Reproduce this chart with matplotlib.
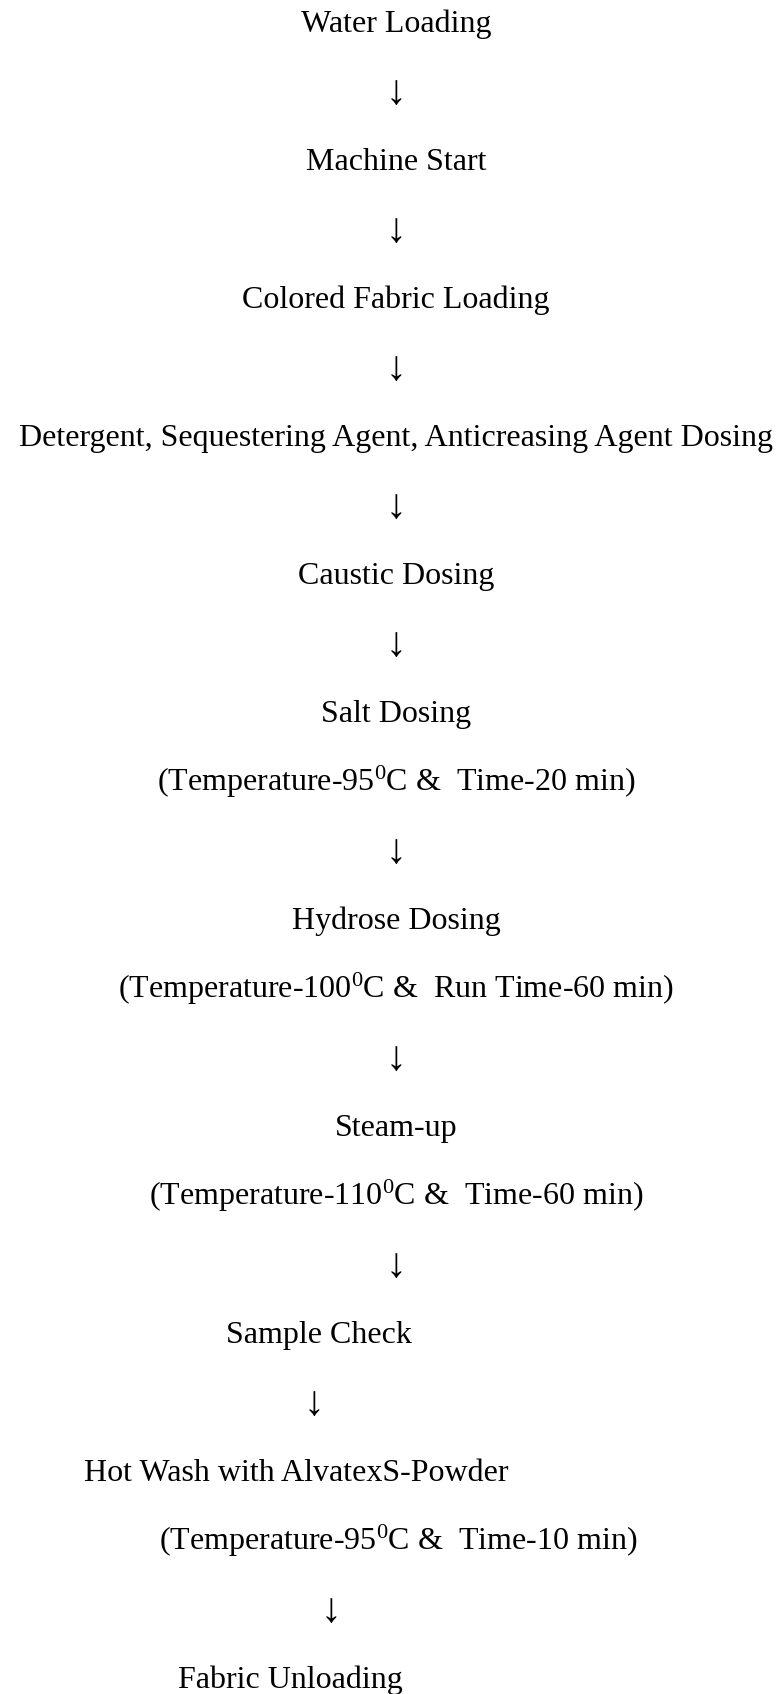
import matplotlib.pyplot as plt

plt.rcParams['font.family'] = ['Liberation Serif', 'DejaVu Serif']
plt.rcParams['mathtext.fontset'] = 'custom'
plt.rcParams['mathtext.rm'] = 'Liberation Serif'
plt.rcParams['mathtext.it'] = 'Liberation Serif:italic'

ARROW = '\u2193'

# flow steps, top to bottom (arrows are rows too)
rows = [
	'Water Loading', ARROW,
	'Machine Start', ARROW,
	'Colored Fabric Loading', ARROW,
	'Detergent, Sequestering Agent, Anticreasing Agent Dosing', ARROW,
	'Caustic Dosing', ARROW,
	'Salt Dosing',
	'(Temperature-95$^0$C &  Time-20 min)', ARROW,
	'Hydrose Dosing',
	'(Temperature-100$^0$C &  Run Time-60 min)', ARROW,
	'Steam-up',
	'(Temperature-110$^0$C &  Time-60 min)', ARROW,
	'Sample Check', ARROW,
	'Hot Wash with AlvatexS-Powder',
	'(Temperature-95$^0$C &  Time-10 min)', ARROW,
	'Fabric Unloading',
]

# layout: horizontal centre of each row in pixels
xpos = [396] * 19 + [319, 314, 296, 398, 331, 290]

TOP = 32.3     # baseline of first row
STEP = 69.0    # row spacing
FSIZE = 23
ASIZE = 30     # arrow glyph is drawn a bit larger


def draw_flow(ax):
	"""writes each row of the flow as centred text"""
	for i, s in enumerate(rows):
		y = TOP + i*STEP
		size = FSIZE
		if s == ARROW:
			size = ASIZE
			y += 3
		ax.text(xpos[i], y, s, ha='center', va='baseline',
			fontsize=size, color='black')


fig = plt.figure(figsize=(7.77, 16.94), dpi=100)
ax = fig.add_axes([0, 0, 1, 1])
ax.set_xlim(0, 777)
ax.set_ylim(1694, 0)
ax.axis('off')

draw_flow(ax)

plt.savefig('out.png', dpi=100, facecolor='white')
plt.close()
